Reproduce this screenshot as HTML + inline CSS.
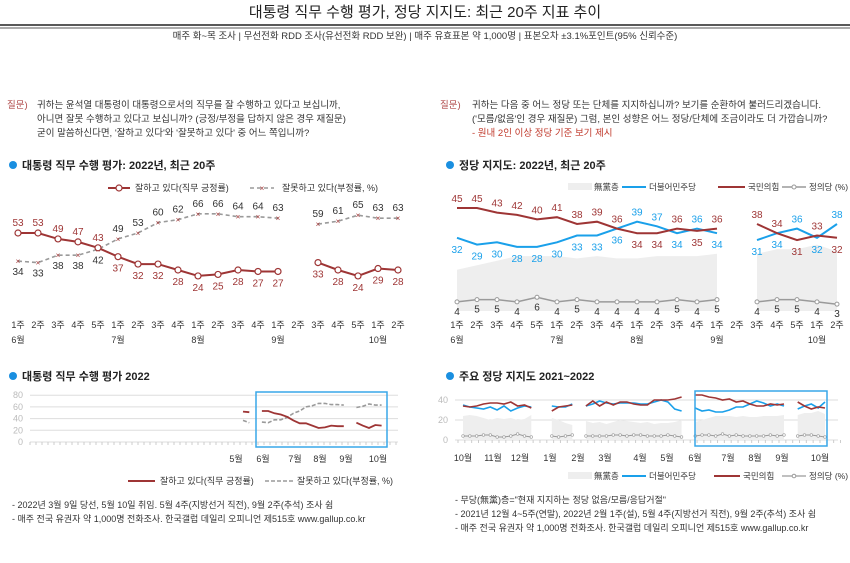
<!DOCTYPE html>
<html><head><meta charset="utf-8">
<style>
html,body{margin:0;padding:0;background:#fff;}
svg{display:block;font-family:"Liberation Sans","Noto Sans CJK KR",sans-serif;}
</style></head>
<body>
<svg id="s" width="850" height="563" viewBox="0 0 850 563" xmlns="http://www.w3.org/2000/svg">
<g>
<text x="425" y="17" text-anchor="middle" font-size="15" fill="#222">대통령 직무 수행 평가, 정당 지지도: 최근 20주 지표 추이</text>
<line x1="0" y1="25" x2="850" y2="25" stroke="#222" stroke-width="1.5"/>
<line x1="0" y1="28" x2="850" y2="28" stroke="#222" stroke-width="0.8"/>
<text x="425" y="39" text-anchor="middle" font-size="9.5" fill="#333">매주 화~목 조사 | 무선전화 RDD 조사(유선전화 RDD 보완) | 매주 유효표본 약 1,000명 | 표본오차 ±3.1%포인트(95% 신뢰수준)</text>
</g>
<g font-size="9.5" fill="#333">
<text x="7" y="108" fill="#b04a4a">질문)</text>
<text x="37" y="108">귀하는 윤석열 대통령이 대통령으로서의 직무를 잘 수행하고 있다고 보십니까,</text>
<text x="37" y="122">아니면 잘못 수행하고 있다고 보십니까? (긍정/부정을 답하지 않은 경우 재질문)</text>
<text x="37" y="136">굳이 말씀하신다면, '잘하고 있다'와 '잘못하고 있다' 중 어느 쪽입니까?</text>
</g>
<g font-size="9.5" fill="#333">
<text x="440" y="108" fill="#b04a4a">질문)</text>
<text x="472" y="108">귀하는 다음 중 어느 정당 또는 단체를 지지하십니까? 보기를 순환하여 불러드리겠습니다.</text>
<text x="472" y="122">('모름/없음'인 경우 재질문) 그럼, 본인 성향은 어느 정당/단체에 조금이라도 더 가깝습니까?</text>
<text x="472" y="136" fill="#c0392b">- 원내 2인 이상 정당 기준 보기 제시</text>
</g>
<g font-size="11" font-weight="bold" fill="#222">
<circle cx="13" cy="165" r="4" fill="#1a8fe0"/><text x="22" y="169">대통령 직무 수행 평가: 2022년, 최근 20주</text>
<circle cx="450" cy="165" r="4" fill="#1a8fe0"/><text x="459" y="169">정당 지지도: 2022년, 최근 20주</text>
<circle cx="13" cy="376" r="4" fill="#1a8fe0"/><text x="22" y="380">대통령 직무 수행 평가 2022</text>
<circle cx="450" cy="376" r="4" fill="#1a8fe0"/><text x="459" y="380">주요 정당 지지도 2021~2022</text>
</g>
<g id="c1"></g>
<g id="c2"></g>
<g id="c3"></g>
<g id="c4"></g>
<g font-size="9" fill="#333">
<text x="12" y="508">- 2022년 3월 9일 당선, 5월 10일 취임. 5월 4주(지방선거 직전), 9월 2주(추석) 조사 쉼</text>
<text x="12" y="522">- 매주 전국 유권자 약 1,000명 전화조사. 한국갤럽 데일리 오피니언 제515호 www.gallup.co.kr</text>
</g>
<g font-size="9" fill="#333">
<text x="455" y="503">- 무당(無黨)층="현재 지지하는 정당 없음/모름/응답거절"</text>
<text x="455" y="517">- 2021년 12월 4~5주(연말), 2022년 2월 1주(설), 5월 4주(지방선거 직전), 9월 2주(추석) 조사 쉼</text>
<text x="455" y="531">- 매주 전국 유권자 약 1,000명 전화조사. 한국갤럽 데일리 오피니언 제515호 www.gallup.co.kr</text>
</g>
</svg>
<script>
// ---- data ----
const weekLabels = ["1주","2주","3주","4주","5주","1주","2주","3주","4주","1주","2주","3주","4주","1주","2주","3주","4주","5주","1주","2주"];
const monthLabels = [[0,"6월"],[5,"7월"],[9,"8월"],[13,"9월"],[18,"10월"]];
const approvePos = [53,53,49,47,43,37,32,32,28,24,25,28,27,27,null,33,28,24,29,28];
const approveNeg = [34,33,38,38,42,49,53,60,62,66,66,64,64,63,null,59,61,65,63,63];
const partyDem = [32,29,30,28,28,30,33,33,36,39,37,34,36,34,null,31,34,36,32,38];
const partyPPP = [45,45,43,42,40,41,38,39,36,34,34,36,35,36,null,38,34,31,33,32];
const partyJustice = [4,5,5,4,6,4,5,4,4,4,4,5,4,5,null,4,5,5,4,3];
const partyNone = [18,20,22,24,24,24,23,24,23,23,24,24,24,25,null,25,27,27,29,26];
const yearPos = [52,51,null,53,53,49,47,43,37,32,32,28,24,25,28,27,27,null,33,28,24,29,28];
const yearNeg = [37,33,null,34,33,38,38,42,49,53,60,62,66,66,64,64,63,null,59,61,65,63,63];
const yearMonths = [[236,"5월"],[263,"6월"],[295,"7월"],[320,"8월"],[346,"9월"],[378,"10월"]];
const longDem = [35,33,32,31,33,30,34,29,32,34,33,null,null,34,33,33,36,null,34,36,39,37,36,37,37,37,36,36,38,40,38,31,29,null,
  32,29,30,28,28,30,33,33,36,39,37,34,36,34,null,31,34,36,32,38];
const longPPP = [34,33,34,36,37,37,36,38,34,35,32,null,null,29,33,34,35,null,34,39,34,38,35,38,38,36,35,35,40,40,40,41,43,null,
  45,45,43,42,40,41,38,39,36,34,34,36,35,36,null,38,34,31,33,32];
const longNone = [24,25,24,22,20,22,21,22,20,21,25,null,null,22,20,17,15,null,19,17,18,16,18,20,19,18,17,18,16,17,17,18,20,null,
  18,20,22,24,24,24,23,24,23,23,24,24,24,25,null,25,27,27,29,26];
const longJustice = [4,4,4,5,5,3,3,4,6,4,3,null,null,4,3,4,5,null,4,4,4,4,5,5,4,5,5,4,4,4,5,4,3,null,
  4,5,5,4,6,4,5,4,4,4,4,5,4,5,null,4,5,5,4,3];
const longMonths = [[463,"10월"],[493,"11월"],[520,"12월"],[550,"1월"],[578,"2월"],[605,"3월"],[640,"4월"],[667,"5월"],[695,"6월"],[728,"7월"],[755,"8월"],[782,"9월"],[820,"10월"]];

const NS="http://www.w3.org/2000/svg";
function mk(p,tag,attrs){const e=document.createElementNS(NS,tag);for(const k in attrs)e.setAttribute(k,attrs[k]);p.appendChild(e);return e;}
function txt(p,x,y,s,size,fill,anchor){const t=mk(p,"text",{x:x,y:y,"font-size":size,fill:fill,"text-anchor":anchor||"middle"});t.textContent=s;return t;}
function segs(vals,xf,yf){const out=[];let cur=[];vals.forEach((v,i)=>{if(v===null){if(cur.length)out.push(cur);cur=[];}else cur.push([xf(i),yf(v)]);});if(cur.length)out.push(cur);return out;}
function pts(s){return s.map(p=>p[0].toFixed(1)+","+p[1].toFixed(1)).join(" ");}

const RED="#9e3535", BLUE="#1aa0ea", GRAY="#9a9a9a";

(function(){
const g=document.getElementById("c1");
const x=i=>18+i*20, y=v=>233+(53-v)*1.48;
mk(g,"line",{x1:108,y1:188,x2:130,y2:188,stroke:RED,"stroke-width":2});
mk(g,"circle",{cx:119,cy:188,r:3,fill:"#fff",stroke:RED,"stroke-width":1.2});
const l1=txt(g,135,191,"잘하고 있다(직무 긍정률)",9,"#333","start");


mk(g,"line",{x1:250,y1:188,x2:274,y2:188,stroke:GRAY,"stroke-width":1.6,"stroke-dasharray":"4,3"});
txt(g,262,191,"×",8,RED);
const l2=txt(g,282,191,"잘못하고 있다(부정률, %)",9,"#333","start");


segs(approveNeg,x,y).forEach(s=>{const e=mk(g,"polyline",{points:pts(s),fill:"none",stroke:GRAY,"stroke-width":1.6,"stroke-dasharray":"4,3"});

});
segs(approvePos,x,y).forEach(s=>{const e=mk(g,"polyline",{points:pts(s),fill:"none",stroke:RED,"stroke-width":2});

});
approveNeg.forEach((v,i)=>{if(v===null)return;txt(g,x(i),y(v)+3,"×",8,RED);
const above=i>=5; txt(g,x(i),above?y(v)-7:y(v)+14,String(v),10,"#333");});
approvePos.forEach((v,i)=>{if(v===null)return;const c=mk(g,"circle",{cx:x(i),cy:y(v),r:3,fill:"#fff",stroke:RED,"stroke-width":1.2});


const above=i<5; txt(g,x(i),above?y(v)-7:y(v)+15,String(v),10,RED);});
weekLabels.forEach((s,i)=>txt(g,x(i),328,s,9,"#333"));
monthLabels.forEach(m=>txt(g,x(m[0]),343,m[1],9,"#333"));
})();

(function(){
const g=document.getElementById("c2");
const x=i=>457+i*20, y=v=>208+(45-v)*2.29;
mk(g,"rect",{x:568,y:183,width:24,height:7,fill:"#eee"});
txt(g,594,190,"無黨층",8.5,"#333","start");
mk(g,"line",{x1:622,y1:187,x2:646,y2:187,stroke:BLUE,"stroke-width":2});
txt(g,649,190,"더불어민주당",8.5,"#333","start");
mk(g,"line",{x1:718,y1:187,x2:745,y2:187,stroke:RED,"stroke-width":2});
txt(g,748,190,"국민의힘",8.5,"#333","start");
mk(g,"line",{x1:782,y1:187,x2:806,y2:187,stroke:GRAY,"stroke-width":1.5});
mk(g,"circle",{cx:794,cy:187,r:2,fill:"#fff",stroke:GRAY});
txt(g,809,190,"정의당 (%)",8.5,"#333","start");
segs(partyNone,x,y).forEach(s=>{const d="M"+s[0][0]+","+y(0)+" L"+pts(s).replace(/ /g," L")+" L"+s[s.length-1][0]+","+y(0)+"Z";
const e=mk(g,"path",{d:d,fill:"#eeeeee"});

});
segs(partyJustice,x,y).forEach(s=>{const e=mk(g,"polyline",{points:pts(s),fill:"none",stroke:GRAY,"stroke-width":1.5});

});
partyJustice.forEach((v,i)=>{if(v===null)return;mk(g,"circle",{cx:x(i),cy:y(v),r:2,fill:"#fff",stroke:GRAY});txt(g,x(i),y(v)+13,String(v),10,"#333");});
segs(partyDem,x,y).forEach(s=>{const e=mk(g,"polyline",{points:pts(s),fill:"none",stroke:BLUE,"stroke-width":2});

});
segs(partyPPP,x,y).forEach(s=>{const e=mk(g,"polyline",{points:pts(s),fill:"none",stroke:RED,"stroke-width":2});

});
partyDem.forEach((v,i)=>{if(v===null)return;const p=partyPPP[i];const above=v>p;txt(g,x(i),above?y(v)-6:y(v)+15,String(v),10,BLUE);});
partyPPP.forEach((v,i)=>{if(v===null)return;const d=partyDem[i];const above=v>=d;txt(g,x(i),above?y(v)-6:y(v)+15,String(v),10,RED);});
weekLabels.forEach((s,i)=>txt(g,x(i),328,s,9,"#333"));
monthLabels.forEach(m=>txt(g,x(m[0]),343,m[1],9,"#333"));
})();

(function(){
const g=document.getElementById("c3");
const x=i=>243+i*6.3, y=v=>442-v*0.585;
[0,20,40,60,80].forEach(t=>{mk(g,"line",{x1:30,y1:y(t),x2:398,y2:y(t),stroke:"#ddd","stroke-width":1});txt(g,23,y(t)+3,String(t),9,"#bbb","end");});
for(let i=0;i<62;i++){mk(g,"line",{x1:30+i*6,y1:442,x2:30+i*6,y2:445,stroke:"#ccc"});}
yearMonths.forEach(m=>txt(g,m[0],462,m[1],9,"#333"));
const box=mk(g,"rect",{x:256,y:392,width:131,height:55,fill:"none",stroke:"#39a7e8","stroke-width":1.5});


segs(yearNeg,x,y).forEach(s=>{const e=mk(g,"polyline",{points:pts(s),fill:"none",stroke:GRAY,"stroke-width":1.6,"stroke-dasharray":"4,2"});

});
segs(yearPos,x,y).forEach(s=>{const e=mk(g,"polyline",{points:pts(s),fill:"none",stroke:RED,"stroke-width":1.8});

});
mk(g,"line",{x1:128,y1:481,x2:155,y2:481,stroke:RED,"stroke-width":2});
txt(g,160,484,"잘하고 있다(직무 긍정률)",9,"#333","start");
mk(g,"line",{x1:265,y1:481,x2:293,y2:481,stroke:GRAY,"stroke-width":1.6,"stroke-dasharray":"4,2"});
txt(g,297,484,"잘못하고 있다(부정률, %)",9,"#333","start");
})();

(function(){
const g=document.getElementById("c4");
const x=i=>463+i*6.83, y=v=>440-v;
[0,20,40].forEach(t=>{mk(g,"line",{x1:455,y1:y(t),x2:838,y2:y(t),stroke:"#ddd"});txt(g,448,y(t)+3,String(t),9,"#bbb","end");});
for(let i=0;i<57;i++){mk(g,"line",{x1:458+i*6.83,y1:440,x2:458+i*6.83,y2:443,stroke:"#ccc"});}
longMonths.forEach(m=>txt(g,m[0],461,m[1],9,"#333"));
segs(longNone,x,y).forEach(s=>{const d="M"+s[0][0]+","+y(0)+" L"+pts(s).replace(/ /g," L")+" L"+s[s.length-1][0]+","+y(0)+"Z";
const e=mk(g,"path",{d:d,fill:"#eeeeee"});

});
segs(longJustice,x,y).forEach(s=>{mk(g,"polyline",{points:pts(s),fill:"none",stroke:GRAY,"stroke-width":1});
s.forEach(p=>mk(g,"circle",{cx:p[0],cy:p[1],r:1.3,fill:"#fff",stroke:GRAY,"stroke-width":0.6}));});
segs(longDem,x,y).forEach(s=>{const e=mk(g,"polyline",{points:pts(s),fill:"none",stroke:BLUE,"stroke-width":1.6});

});
segs(longPPP,x,y).forEach(s=>{const e=mk(g,"polyline",{points:pts(s),fill:"none",stroke:RED,"stroke-width":1.6});

});
const box=mk(g,"rect",{x:695,y:391,width:132,height:55,fill:"none",stroke:"#39a7e8","stroke-width":1.5});


mk(g,"rect",{x:568,y:472,width:24,height:7,fill:"#eee"});
txt(g,594,479,"無黨층",8.5,"#333","start");
mk(g,"line",{x1:622,y1:476,x2:646,y2:476,stroke:BLUE,"stroke-width":2});
txt(g,649,479,"더불어민주당",8.5,"#333","start");
mk(g,"line",{x1:714,y1:476,x2:740,y2:476,stroke:RED,"stroke-width":2});
txt(g,743,479,"국민의힘",8.5,"#333","start");
mk(g,"line",{x1:782,y1:476,x2:806,y2:476,stroke:GRAY,"stroke-width":1.2});
mk(g,"circle",{cx:794,cy:476,r:1.8,fill:"#fff",stroke:GRAY});
txt(g,809,479,"정의당 (%)",8.5,"#333","start");
})();
</script>
</body></html>
